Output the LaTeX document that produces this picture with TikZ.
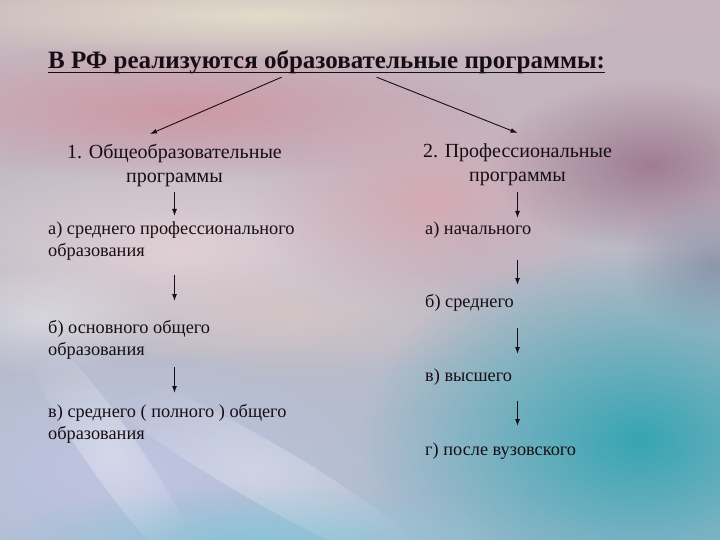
\documentclass[tikz,border=0pt]{standalone}
\usepackage{fontspec}
\setmainfont{Liberation Serif}
\usetikzlibrary{arrows.meta,fadings}
\tikzfading[name=softblob, inner color=transparent!0, outer color=transparent!100]
\definecolor{ink}{RGB}{22,14,20}
\definecolor{bgtop}{RGB}{200,182,188}
\definecolor{bgbot}{RGB}{175,190,210}
\definecolor{cream}{RGB}{226,220,202}
\definecolor{pinkband}{RGB}{205,152,166}
\definecolor{lightpink}{RGB}{224,208,212}
\definecolor{greyright}{RGB}{196,180,190}
\definecolor{mauve}{RGB}{160,124,146}
\definecolor{rosecol}{RGB}{212,170,180}
\definecolor{beige}{RGB}{216,198,196}
\definecolor{teal}{RGB}{55,165,178}
\definecolor{lavender}{RGB}{192,196,226}
\definecolor{skyblue}{RGB}{135,195,215}
\definecolor{greyblue}{RGB}{145,150,172}
\begin{document}
\begin{tikzpicture}[x=1pt,y=-1pt,
  blob/.style={path fading=softblob},
  txt/.style={inner sep=0pt, text=ink, font=\fontsize{18.3}{22}\selectfont, align=left, anchor=north west},
  head/.style={inner sep=0pt, text=ink, font=\fontsize{20}{24}\selectfont, align=center, anchor=north},
  arr/.style={draw=ink, line width=1.1pt, -{Latex[length=7pt,width=5pt]}},
  diag/.style={draw=ink, line width=0.9pt, -{Latex[length=7pt,width=5pt]}}]
\useasboundingbox (0,0) rectangle (720,540);
% ---------- background ----------
\begin{scope}
\clip (0,0) rectangle (720,540);
\shade[top color=bgtop, bottom color=bgbot] (0,0) rectangle (720,540);
\fill[greyright, blob] (640,60) ellipse (220 and 110);
\fill[lightpink, blob] (180,250) ellipse (300 and 110);
\fill[pinkband, blob] (180,110) ellipse (330 and 70);
\fill[rosecol, blob] (430,200) ellipse (180 and 110);
\fill[cream, blob] (260,15) ellipse (380 and 45);
\fill[mauve, blob] (650,165) ellipse (160 and 85);
\fill[greyblue, blob] (715,265) ellipse (90 and 70);
\fill[beige, blob, opacity=0.7] (300,320) ellipse (230 and 60);
\fill[lavender, blob] (130,470) ellipse (260 and 120);
\fill[teal, blob] (640,440) ellipse (280 and 190);
\fill[skyblue, blob] (260,545) ellipse (260 and 60);
\fill[white, opacity=0.35, blob, rotate around={-55:(110,450)}] (110,450) ellipse (160 and 26);
\fill[white, opacity=0.3, blob, rotate around={-30:(260,470)}] (260,470) ellipse (210 and 30);
\fill[white, opacity=0.35, blob] (40,320) ellipse (120 and 55);
\end{scope}
% ---------- title ----------
\node[anchor=base west, inner sep=0pt, text=ink, font=\bfseries\fontsize{25}{28}\selectfont] (title) at (48,69) {В РФ реализуются образовательные программы:};
\draw[ink, line width=1.2pt] ([yshift=-3.5pt]title.base west) -- ([yshift=-3.5pt]title.base east);
% ---------- headings ----------
\node[head] (h1) at (174.5,144) {1. Общеобразовательные\\программы};
\node[head] (h2) at (517.5,143) {2. Профессиональные\\программы};
\draw[diag] ([xshift=-45pt,yshift=-2.6pt]title.south) -- ([xshift=-24.5pt,yshift=10pt]h1.north);
\draw[diag] ([xshift=50pt,yshift=-2.6pt]title.south) -- ([yshift=10pt]h2.north);
% ---------- left column ----------
\node[txt] (a1) at (48,221.6) {а) среднего профессионального\\образования};
\node[txt] (b1) at (48,320) {б) основного общего\\образования};
\node[txt] (c1) at (48,404) {в) среднего ( полного ) общего\\образования};
\draw[arr, shorten <=5.5pt, shorten >=5.6pt] (h1.south) -- (a1.north -| h1.south);
\draw[arr, shorten <=14.3pt, shorten >=19pt] (a1.south -| h1.south) -- (b1.north -| h1.south);
\draw[arr, shorten <=7.9pt, shorten >=11pt] (b1.south -| h1.south) -- (c1.north -| h1.south);
% ---------- right column ----------
\node[txt] (a2) at (425,222) {а) начального};
\node[txt] (b2) at (425,294) {б) среднего};
\node[txt] (c2) at (425,369) {в) высшего};
\node[txt] (d2) at (425,443) {г) после вузовского};
\draw[arr, shorten <=6.5pt, shorten >=4pt] (h2.south) -- (a2.north -| h2.south);
\draw[arr, shorten <=20.7pt, shorten >=9pt] (a2.south -| h2.south) -- (b2.north -| h2.south);
\draw[arr, shorten <=16.9pt, shorten >=15pt] (b2.south -| h2.south) -- (c2.north -| h2.south);
\draw[arr, shorten <=14.7pt, shorten >=17pt] (c2.south -| h2.south) -- (d2.north -| h2.south);
\end{tikzpicture}
\end{document}
